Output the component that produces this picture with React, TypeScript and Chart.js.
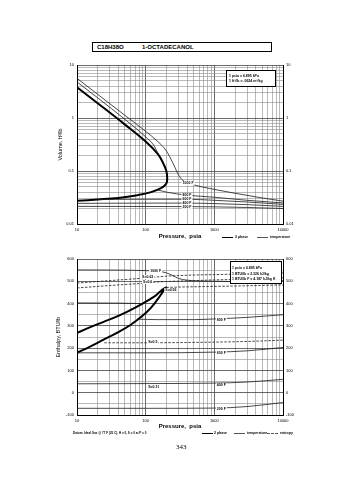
import React, { useEffect, useRef } from "react";
import { Chart, registerables } from "chart.js";
Chart.register(...registerables);

const FONT = "'Liberation Sans', Arial, Helvetica, sans-serif";

// ---------- axis tick values ----------
const pressureDecades = [10, 100, 1000, 10000];
const volumeDecades = [0.01, 0.1, 1, 10];
const gridMultiples = [1, 2, 3, 4, 5, 6, 7, 8, 9];
const enthalpyLabels = [-100, 0, 100, 200, 300, 400, 500, 600];
const enthalpyGrid = [-100, -50, 0, 50, 100, 150, 200, 250, 300, 350, 400, 450, 500, 550, 600];

// ---------- top chart: volume (ft3/lb) vs pressure (psia) ----------
const domeVolP = [10, 20, 50, 100, 150, 180, 200, 206, 200, 170, 120, 76, 40, 20, 10];
const domeVolV = [3.8, 1.9, 0.75, 0.36, 0.21, 0.14, 0.1, 0.074, 0.058, 0.048, 0.04, 0.035, 0.031, 0.029, 0.0275];
const t1000VolP = [10, 20, 50, 100, 150, 200, 250, 300, 350, 500, 1000, 2000, 5000, 10000];
const t1000VolV = [5.6, 2.8, 1.12, 0.56, 0.36, 0.24, 0.14, 0.085, 0.066, 0.055, 0.045, 0.038, 0.031, 0.027];
const t800VapP = [10, 20, 50, 100, 130, 150];
const t800VapV = [4.8, 2.4, 0.94, 0.44, 0.31, 0.22];
const t800LiqP = [150, 200, 400, 1000, 3000, 10000];
const t800LiqV = [0.044, 0.04, 0.035, 0.032, 0.028, 0.025];
const t600VolP = [20, 100, 400, 1000, 3000, 10000];
const t600VolV = [0.029, 0.0293, 0.0293, 0.028, 0.026, 0.0235];
const t400VolP = [10, 100, 400, 1000, 3000, 10000];
const t400VolV = [0.0245, 0.0248, 0.0248, 0.0243, 0.0232, 0.0215];
const t200VolP = [10, 100, 400, 1000, 3000, 10000];
const t200VolV = [0.0215, 0.0214, 0.0213, 0.0211, 0.0205, 0.0196];
const volLabelText = ["1000 F", "800 F", "600 F", "400 F", "200 F"];
const volLabelP = [415, 400, 400, 400, 400];
const volLabelV = [0.059, 0.035, 0.0294, 0.0249, 0.0212];

// ---------- bottom chart: enthalpy (BTU/lb) vs pressure (psia) ----------
const domeHP = [10, 15, 24, 40, 60, 90, 120, 150, 180, 200, 195, 184, 160, 131, 90, 60, 40, 24, 15, 10];
const domeHH = [179, 205, 237, 272, 304, 345, 382, 420, 455, 472, 471, 467, 452, 430, 400, 371, 345, 317, 292, 268];
const t1000HP = [10, 50, 100, 150, 200, 250, 300, 400, 1000, 3000, 10000];
const t1000HH = [551, 550, 548, 545, 538, 525, 513, 505, 500, 499, 503];
const t800VapHP = [10, 40, 90];
const t800VapHH = [403, 402, 400];
const t800LiqHP = [75, 150, 500, 1000, 3000, 10000];
const t800LiqHH = [330, 328, 328, 331, 338, 350];
const t600HP = [10, 100, 1000, 3000, 10000];
const t600HH = [179, 179, 182, 188, 203];
const t400HP = [10, 100, 1000, 3000, 10000];
const t400HH = [40, 41, 43, 48, 60];
const t200HP = [10, 100, 1000, 3000, 10000];
const t200HH = [-70, -70, -69, -62, -44];
const s063P = [10, 30, 100, 150, 200, 500, 1000, 3000, 10000];
const s063H = [492, 503, 515, 520, 523, 528, 530, 533, 537];
const s060P = [10, 30, 100, 150, 200, 500, 1000, 3000, 10000];
const s060H = [470, 481, 492, 497, 499, 503, 506, 510, 515];
const s056P = [200, 300, 1000, 3000, 10000];
const s056H = [472, 474, 477, 480, 484];
const s050P = [25, 100, 300, 1000, 3000, 10000];
const s050H = [224, 224, 225, 227, 230, 236];
const hLabelText = ["1000 F", "S=0.63", "S=0.6", "S=0.56", "S=0.5", "S=0.11", "800 F", "600 F", "400 F", "200 F"];
const hLabelP = [140, 107, 107, 233, 127, 131, 1265, 1265, 1265, 1265];
const hLabelH = [546, 519, 497, 461, 228, 26, 328, 180, 33, -71];

// ---------- helpers ----------
const isPow10 = (v: number) => {
  if (!(v > 0)) return false;
  const l = Math.log10(v);
  return Math.abs(l - Math.round(l)) < 1e-9;
};
const logGrid = (decades: number[]) => {
  const out: number[] = [];
  for (let i = 0; i < decades.length - 1; i++) {
    gridMultiples.forEach((m) => out.push(parseFloat((m * decades[i]).toPrecision(6))));
  }
  out.push(decades[decades.length - 1]);
  return out;
};

type Kind = "dome" | "temp" | "entropy";
const line = (ps: number[], vs: number[], kind: Kind) => ({
  data: ps.map((p, i) => ({ x: p, y: vs[i] })),
  borderColor: kind === "dome" ? "#000" : "#1a1a1a",
  borderWidth: kind === "dome" ? 2 : 0.8,
  borderDash: kind === "entropy" ? [2.5, 1.5] : [],
  pointRadius: 0,
  tension: kind === "dome" ? 0.4 : 0.3,
  cubicInterpolationMode: kind === "dome" ? "default" : "monotone",
  fill: false,
});

const labelsPlugin = (texts: string[], xs: number[], ys: number[], size: number) => ({
  id: "curveLabels",
  afterDatasetsDraw(chart: any) {
    const { ctx } = chart;
    const sx = chart.scales.x;
    const sy = chart.scales.y;
    ctx.save();
    ctx.font = `bold ${size}px ${FONT}`;
    ctx.textAlign = "center";
    ctx.textBaseline = "middle";
    texts.forEach((t, i) => {
      const px = sx.getPixelForValue(xs[i]);
      const py = sy.getPixelForValue(ys[i]);
      const w = ctx.measureText(t).width;
      ctx.fillStyle = "#fff";
      ctx.fillRect(px - w / 2 - 1, py - size / 2 - 0.3, w + 2, size + 0.6);
      ctx.fillStyle = "#000";
      ctx.fillText(t, px, py);
    });
    ctx.restore();
  },
});

const tickFont = { size: 4, family: FONT };
const MAJOR_GRID = "#444";
const MINOR_GRID = "#8a8a8a";

const pressureAxis = (height: number) => ({
  type: "logarithmic",
  position: "bottom",
  min: 10,
  max: 10000,
  afterBuildTicks: (s: any) => {
    s.ticks = logGrid(pressureDecades).map((v) => ({ value: v }));
  },
  afterFit: (s: any) => {
    s.height = height;
  },
  border: { display: true, color: "#000", width: 1 },
  grid: {
    drawTicks: false,
    color: (c: any) => (isPow10(c.tick?.value) ? MAJOR_GRID : MINOR_GRID),
    lineWidth: (c: any) => (isPow10(c.tick?.value) ? 0.8 : 0.6),
  },
  ticks: {
    autoSkip: false,
    maxRotation: 0,
    padding: 3,
    color: "#000",
    font: tickFont,
    callback: (v: any) => (pressureDecades.includes(Number(v)) ? String(v) : ""),
  },
  title: {
    display: true,
    text: "Pressure,  psia",
    color: "#000",
    padding: 0,
    font: { size: 6, weight: "bold", family: FONT },
  },
});

const volumeAxis = (pos: "left" | "right", width: number, withTitle: boolean) => ({
  type: "logarithmic",
  position: pos,
  min: 0.01,
  max: 10,
  afterBuildTicks: (s: any) => {
    s.ticks = logGrid(volumeDecades).map((v) => ({ value: v }));
  },
  afterFit: (s: any) => {
    s.width = width;
  },
  border: { display: true, color: "#000", width: 1 },
  grid: {
    display: pos === "left",
    drawTicks: false,
    color: (c: any) => (isPow10(c.tick?.value) ? MAJOR_GRID : MINOR_GRID),
    lineWidth: (c: any) => (isPow10(c.tick?.value) ? 0.8 : 0.6),
  },
  ticks: {
    autoSkip: false,
    padding: 3,
    color: "#000",
    font: tickFont,
    callback: (v: any) => (isPow10(Number(v)) ? String(Number(v)) : ""),
  },
  title: {
    display: withTitle,
    text: "Volume, ft³/lb",
    color: "#000",
    padding: 0,
    font: { size: 5.5, family: FONT },
  },
});

const enthalpyAxis = (pos: "left" | "right", width: number, withTitle: boolean) => ({
  type: "linear",
  position: pos,
  min: -100,
  max: 600,
  afterBuildTicks: (s: any) => {
    s.ticks = enthalpyGrid.map((v) => ({ value: v }));
  },
  afterFit: (s: any) => {
    s.width = width;
  },
  border: { display: true, color: "#000", width: 1 },
  grid: {
    display: pos === "left",
    drawTicks: false,
    color: (c: any) => (enthalpyLabels.includes(c.tick?.value) ? MAJOR_GRID : MINOR_GRID),
    lineWidth: (c: any) => (enthalpyLabels.includes(c.tick?.value) ? 0.8 : 0.6),
  },
  ticks: {
    autoSkip: false,
    padding: 3,
    color: "#000",
    font: tickFont,
    callback: (v: any) => (enthalpyLabels.includes(Number(v)) ? String(v) : ""),
  },
  title: {
    display: withTitle,
    text: "Enthalpy, BTU/lb",
    color: "#000",
    padding: 0,
    font: { size: 5.5, family: FONT },
  },
});

const volumeConfig = () => ({
  type: "line",
  data: {
    datasets: [
      line(t1000VolP, t1000VolV, "temp"),
      line(t800VapP, t800VapV, "temp"),
      line(t800LiqP, t800LiqV, "temp"),
      line(t600VolP, t600VolV, "temp"),
      line(t400VolP, t400VolV, "temp"),
      line(t200VolP, t200VolV, "temp"),
      line(domeVolP, domeVolV, "dome"),
    ],
  },
  options: {
    responsive: false,
    animation: false,
    devicePixelRatio: 1,
    layout: { padding: { left: 57, right: 42, top: 65, bottom: 10 } },
    plugins: { legend: { display: false }, tooltip: { enabled: false } },
    scales: {
      x: pressureAxis(16),
      y: volumeAxis("left", 20, true),
      y2: volumeAxis("right", 30, false),
    },
  },
  plugins: [labelsPlugin(volLabelText, volLabelP, volLabelV, 3.5)],
});

const enthalpyConfig = () => ({
  type: "line",
  data: {
    datasets: [
      line(s063P, s063H, "entropy"),
      line(s060P, s060H, "entropy"),
      line(s056P, s056H, "entropy"),
      line(s050P, s050H, "entropy"),
      line(t1000HP, t1000HH, "temp"),
      line(t800VapHP, t800VapHH, "temp"),
      line(t800LiqHP, t800LiqHH, "temp"),
      line(t600HP, t600HH, "temp"),
      line(t400HP, t400HH, "temp"),
      line(t200HP, t200HH, "temp"),
      line(domeHP, domeHH, "dome"),
    ],
  },
  options: {
    responsive: false,
    animation: false,
    devicePixelRatio: 1,
    layout: { padding: { left: 55, right: 42, top: 9, bottom: 10 } },
    plugins: { legend: { display: false }, tooltip: { enabled: false } },
    scales: {
      x: pressureAxis(15),
      y: enthalpyAxis("left", 22, true),
      y2: enthalpyAxis("right", 30, false),
    },
  },
  plugins: [labelsPlugin(hLabelText, hLabelP, hLabelH, 3.5)],
});

function ChartCanvas({ make, top, height }: { make: () => any; top: number; height: number }) {
  const ref = useRef<HTMLCanvasElement>(null);
  useEffect(() => {
    const chart = new Chart(ref.current as HTMLCanvasElement, make());
    return () => chart.destroy();
  }, []);
  return (
    <canvas
      ref={ref}
      width={355}
      height={height}
      style={{ position: "absolute", left: 0, top, width: 355, height }}
    />
  );
}

const abs = (left: number, top: number, extra: any = {}) => ({
  position: "absolute" as const,
  left,
  top,
  whiteSpace: "nowrap" as const,
  ...extra,
});

function LegendSample({ left, top, kind }: { left: number; top: number; kind: Kind }) {
  const border =
    kind === "dome" ? "1.6px solid #000" : kind === "temp" ? "0.8px solid #555" : "0.8px dashed #555";
  return <div style={abs(left, top, { width: 11, height: 0, borderTop: border })} />;
}

const tinyText = { fontSize: 3.5, fontWeight: "bold", lineHeight: "4px", color: "#000" };

export default function App() {
  return (
    <div
      style={{
        position: "fixed",
        left: 0,
        top: 0,
        width: 355,
        height: 480,
        background: "#fff",
        fontFamily: FONT,
        overflow: "hidden",
      }}
    >
      {/* title box */}
      <div
        style={abs(92, 42, {
          width: 180,
          height: 10,
          border: "1px solid #000",
          boxSizing: "border-box",
        })}
      />
      <div style={abs(97, 43.5, { fontSize: 6, fontWeight: "bold", lineHeight: "7px" })}>C18H38O</div>
      <div style={abs(142, 43.5, { fontSize: 6, fontWeight: "bold", lineHeight: "7px" })}>1-OCTADECANOL</div>

      <ChartCanvas make={volumeConfig} top={0} height={250} />
      <ChartCanvas make={enthalpyConfig} top={250} height={190} />

      {/* top info box */}
      <div
        style={abs(226, 70, {
          width: 50,
          height: 17,
          border: "0.8px solid #000",
          background: "#fff",
          boxSizing: "border-box",
        })}
      />
      <div style={abs(229, 73.5, tinyText)}>1 psia = 6.895 kPa</div>
      <div style={abs(229, 78.5, tinyText)}>1 ft³/lb = .0624 m³/kg</div>

      {/* bottom info box */}
      <div
        style={abs(230, 261, {
          width: 52,
          height: 23,
          border: "0.8px solid #000",
          background: "#fff",
          boxSizing: "border-box",
        })}
      />
      <div style={abs(232, 266, tinyText)}>1 psia = 6.895 kPa</div>
      <div style={abs(232, 271.5, tinyText)}>1 BTU/lb = 2.326 kJ/kg</div>
      <div style={abs(232, 277, tinyText)}>1 BTU/lb F = 4.187 kJ/kg K</div>

      {/* top legend */}
      <LegendSample left={222} top={237} kind="dome" />
      <div style={abs(235, 235, tinyText)}>2 phase</div>
      <LegendSample left={257} top={237} kind="temp" />
      <div style={abs(270, 235, tinyText)}>temperature</div>

      {/* bottom notes and legend */}
      <div style={abs(73, 431, { fontSize: 3, fontWeight: "bold", lineHeight: "4px" })}>
        Datum: Ideal Gas @ 77 F (25 C), H = 0, S = 0 at P = 0
      </div>
      <LegendSample left={202} top={433} kind="dome" />
      <div style={abs(214, 431, tinyText)}>2 phase</div>
      <LegendSample left={234} top={433} kind="temp" />
      <div style={abs(247, 431, tinyText)}>temperature</div>
      <LegendSample left={267} top={433} kind="entropy" />
      <div style={abs(280, 431, tinyText)}>entropy</div>

      {/* page number */}
      <div style={abs(176, 443, { fontSize: 7, fontFamily: "'Liberation Serif', 'DejaVu Serif', serif", lineHeight: "8px" })}>
        343
      </div>
    </div>
  );
}
